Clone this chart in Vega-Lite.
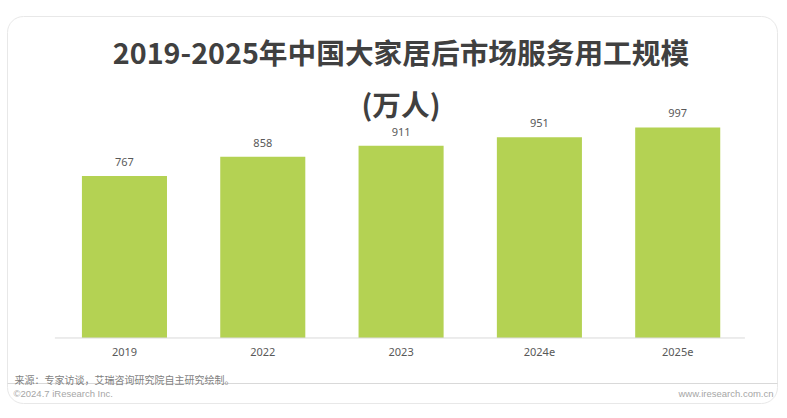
{
  "$schema": "https://vega.github.io/schema/vega-lite/v6.json",
  "width": 770,
  "height": 387,
  "autosize": {"type": "none"},
  "padding": {"left": 7, "top": 16, "right": 10, "bottom": 15},
  "background": "white",
  "title": {
    "text": ["2019-2025年中国大家居后市场服务用工规模", "(万人)"],
    "font": "Noto Sans CJK SC",
    "fontSize": 28.7,
    "fontWeight": "bold",
    "color": "#404040",
    "lineHeight": 52,
    "anchor": "middle",
    "dx": 9,
    "offset": -106
  },
  "data": {
    "values": [
      {"year": "2019", "value": 767},
      {"year": "2022", "value": 858},
      {"year": "2023", "value": 911},
      {"year": "2024e", "value": 951},
      {"year": "2025e", "value": 997}
    ]
  },
  "layer": [
    {
      "mark": {"type": "bar", "color": "#b4d253"},
      "encoding": {
        "x": {
          "field": "year",
          "type": "nominal",
          "sort": null,
          "scale": {"paddingInner": 0.385, "paddingOuter": 0.476, "align": 0.569},
          "axis": {
            "orient": "bottom",
            "offset": -65,
            "domain": false,
            "ticks": false,
            "labelAngle": 0,
            "labelPadding": 8,
            "labelFont": "Noto Sans",
            "labelFontSize": 11,
            "labelColor": "#595959",
            "title": "来源：专家访谈，艾瑞咨询研究院自主研究绘制。",
            "titleFont": "Noto Sans CJK SC",
            "titleFontSize": 10,
            "titleFontWeight": "normal",
            "titleColor": "#7f7f7f",
            "titleAlign": "left",
            "titleBaseline": "middle",
            "titleAngle": 0,
            "titleX": 7,
            "titleY": 42
          }
        },
        "y": {
          "field": "value",
          "type": "quantitative",
          "scale": {"domain": [-308, 1525], "nice": false, "zero": false},
          "axis": {
            "orient": "left",
            "values": [-213],
            "labels": false,
            "ticks": false,
            "domain": false,
            "grid": true,
            "gridColor": "#d9d9d9",
            "gridWidth": 1,
            "title": "©2024.7 iResearch Inc.",
            "titleFont": "Liberation Sans",
            "titleFontSize": 9.5,
            "titleFontWeight": "normal",
            "titleColor": "#a6a6a6",
            "titleAngle": 0,
            "titleAlign": "left",
            "titleBaseline": "middle",
            "titleX": 6,
            "titleY": 377
          }
        }
      }
    },
    {
      "mark": {"type": "text", "baseline": "middle", "dy": -13, "font": "Noto Sans", "fontSize": 11, "color": "#595959"},
      "encoding": {
        "x": {"field": "year", "type": "nominal", "sort": null},
        "y": {
          "field": "value",
          "type": "quantitative",
          "axis": {
            "orient": "right",
            "labels": false,
            "ticks": false,
            "domain": false,
            "grid": false,
            "title": "www.iresearch.com.cn",
            "titleFont": "Liberation Sans",
            "titleFontSize": 9.5,
            "titleFontWeight": "normal",
            "titleColor": "#a6a6a6",
            "titleAngle": 0,
            "titleAlign": "right",
            "titleBaseline": "middle",
            "titleX": -4,
            "titleY": 377
          }
        },
        "text": {"field": "value", "type": "quantitative"}
      }
    },
    {
      "data": {"values": [{"base": 0}]},
      "mark": {"type": "rule", "color": "#d9d9d9", "strokeWidth": 1},
      "encoding": {
        "x": {"datum": "2019", "type": "nominal", "bandPosition": -0.318},
        "x2": {"datum": "2025e", "bandPosition": 1.29},
        "y": {"field": "base", "type": "quantitative", "axis": null}
      }
    }
  ],
  "resolve": {"axis": {"x": "shared", "y": "independent"}},
  "config": {
    "view": {"stroke": "#e8e8e8", "strokeWidth": 1, "cornerRadius": 16}
  }
}
